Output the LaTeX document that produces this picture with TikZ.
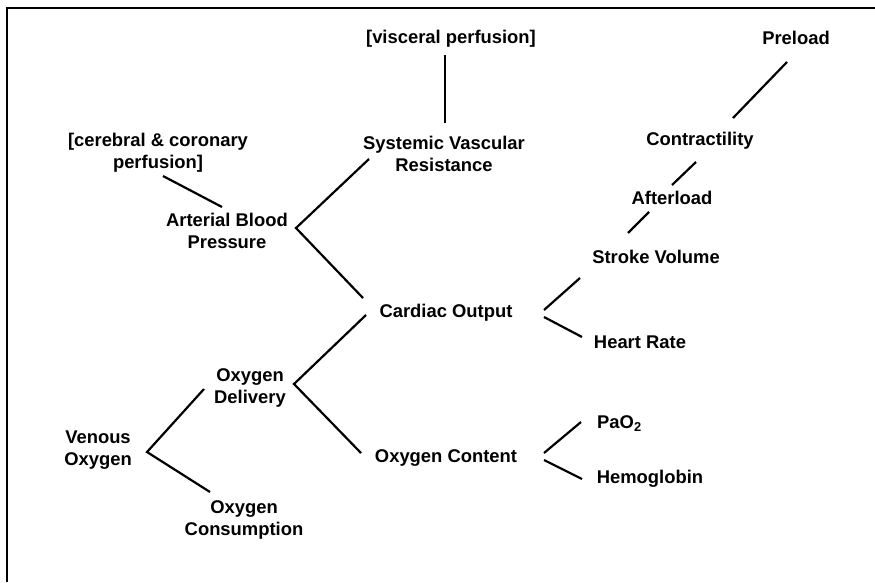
\documentclass[tikz,border=0pt]{standalone}
\usepackage{fontspec}
\setmainfont{Liberation Sans}
\begin{document}
\begin{tikzpicture}[x=1pt,y=-1pt,
  lbl/.style={font=\fontsize{18.4}{22}\selectfont\bfseries, align=center, anchor=base, inner sep=0pt},
  conn/.style={line width=2.2pt}]
\useasboundingbox (0,0) rectangle (875,582);
% frame (only top and left edges visible)
\coordinate (fbl) at (6.5,582);
\coordinate (ftl) at (6.5,8);
\coordinate (ftr) at (875,8);
\draw[line width=2pt] (fbl) -- (ftl) -- (ftr);

% labels (two-line labels: base = baseline of last line)
\node[lbl] (visc) at (451,43) {[visceral perfusion]};
\node[lbl] (svr) at (444,171) {Systemic Vascular\\Resistance};
\node[lbl] (pre) at (796,44) {Preload};
\node[lbl] (con) at (700,145) {Contractility};
\node[lbl] (aft) at (672,204) {Afterload};
\node[lbl] (sv) at (656,263) {Stroke Volume};
\node[lbl] (co) at (446,317) {Cardiac Output};
\node[lbl] (hr) at (640,348) {Heart Rate};
\node[lbl] (abp) at (227,248) {Arterial Blood\\Pressure};
\node[lbl] (cer) at (158,168) {[cerebral \& coronary\\perfusion]};
\node[lbl] (od) at (250,403) {Oxygen\\Delivery};
\node[lbl] (vo) at (98,465) {Venous\\Oxygen};
\node[lbl] (ocs) at (244,535) {Oxygen\\Consumption};
\node[lbl] (oc) at (446,462) {Oxygen Content};
\node[lbl, anchor=base west] (pao) at (597,428) {PaO\textsubscript{2}};
\node[lbl] (hb) at (650,483) {Hemoglobin};

% connector end points
\coordinate (v1) at (445,55);   \coordinate (v2) at (445,123);
\coordinate (c1) at (163,176);  \coordinate (c2) at (222,207);
\coordinate (j1) at (296,228);  \coordinate (j1a) at (369,159); \coordinate (j1b) at (363,298);
\coordinate (p1) at (787,62);   \coordinate (p2) at (733,118);
\coordinate (a1) at (696,162);  \coordinate (a2) at (672,185);
\coordinate (s1) at (649,212);  \coordinate (s2) at (628,233);
\coordinate (j2a) at (544,310); \coordinate (j2ae) at (580,278);
\coordinate (j2b) at (544,317); \coordinate (j2be) at (582,337);
\coordinate (j3) at (294,384);  \coordinate (j3a) at (366,315); \coordinate (j3b) at (361,453);
\coordinate (j4) at (147,452);  \coordinate (j4a) at (204,389); \coordinate (j4b) at (210,492);
\coordinate (j5a) at (544,453); \coordinate (j5ae) at (581,422);
\coordinate (j5b) at (544,460); \coordinate (j5be) at (582,479);

% connectors
\draw[conn] (v1) -- (v2);
\draw[conn] (c1) -- (c2);
\draw[conn] (j1a) -- (j1) -- (j1b);
\draw[conn] (p1) -- (p2);
\draw[conn] (a1) -- (a2);
\draw[conn] (s1) -- (s2);
\draw[conn] (j2ae) -- (j2a);
\draw[conn] (j2b) -- (j2be);
\draw[conn] (j3a) -- (j3) -- (j3b);
\draw[conn] (j4a) -- (j4) -- (j4b);
\draw[conn] (j5ae) -- (j5a);
\draw[conn] (j5b) -- (j5be);
\end{tikzpicture}
\end{document}
